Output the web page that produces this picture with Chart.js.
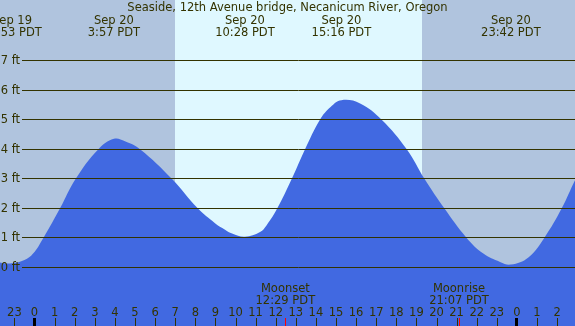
<!DOCTYPE html>
<html>
<head>
<meta charset="utf-8">
<script src="https://cdn.jsdelivr.net/npm/chart.js@4.4.1/dist/chart.umd.min.js"></script>
<style>
  html, body { margin: 0; padding: 0; background: #b0c4de; }
  #wrap { width: 575px; height: 326px; }
</style>
</head>
<body>
<div id="wrap"><canvas id="tideChart" width="575" height="326"></canvas></div>
<script>
// hours are counted from midnight Sep 20 (negative = Sep 19, >24 = Sep 21)
const tideHours = [-2.5, -1.72, -1.12, -0.5, -0.07, 0.44, 1.27, 2.05, 3.18, 3.95, 4.5, 5.25, 6.83, 8.12, 8.98, 9.48, 9.83, 10.47, 11.22, 11.55, 12.08, 12.8, 13.46, 14.2, 14.73, 15.27, 16.2, 17.27, 18.52, 19.4, 20.39, 21.5, 22.33, 23.16, 23.7, 24.57, 25.36, 26.23, 26.89, 27.5];
const tideFeet  = [0.35, 0.17, 0.14, 0.25, 0.47, 1.0, 2.0, 3.0, 4.0, 4.35, 4.27, 4.0, 3.0, 2.0, 1.5, 1.28, 1.15, 1.04, 1.2, 1.43, 2.0, 3.0, 4.0, 5.0, 5.43, 5.66, 5.55, 5.0, 4.0, 3.0, 2.0, 1.0, 0.47, 0.19, 0.1, 0.34, 1.0, 2.0, 2.95, 3.75];

const extremeHours = [-1.12, 3.95, 10.47, 15.27, 23.7];
const extremeDates = ["Sep 19", "Sep 20", "Sep 20", "Sep 20", "Sep 20"];
const extremeTimes = ["22:53 PDT", "3:57 PDT", "10:28 PDT", "15:16 PDT", "23:42 PDT"];

const feetLines = [0, 1, 2, 3, 4, 5, 6, 7];
const hourTicks = [-1, 0, 1, 2, 3, 4, 5, 6, 7, 8, 9, 10, 11, 12, 13, 14, 15, 16, 17, 18, 19, 20, 21, 22, 23, 24, 25, 26];
const hourLabels = ["23", "0", "1", "2", "3", "4", "5", "6", "7", "8", "9", "10", "11", "12", "13", "14", "15", "16", "17", "18", "19", "20", "21", "22", "23", "0", "1", "2"];

const sunrise = 6.99;
const sunset = 19.28;

const moonHours = [12.48, 21.12];
const moonNames = ["Moonset", "Moonrise"];
const moonTimes = ["12:29 PDT", "21:07 PDT"];

const title = "Seaside, 12th Avenue bridge, Necanicum River, Oregon";

const textColor = "#333300";
const font = "11.5px 'DejaVu Sans'";

const tidePlugin = {
  id: "tide",
  beforeDatasetsDraw(chart) {
    const ctx = chart.ctx;
    const a = chart.chartArea;
    const x = chart.scales.x;
    ctx.save();
    ctx.fillStyle = "#b0c4de";
    ctx.fillRect(a.left, a.top, a.right - a.left, a.bottom - a.top);
    const x1 = Math.round(x.getPixelForValue(sunrise));
    const x2 = Math.round(x.getPixelForValue(sunset));
    ctx.fillStyle = "#dff8ff";
    ctx.fillRect(x1, a.top, x2 - x1, a.bottom - a.top);
    ctx.restore();
  },
  afterDatasetsDraw(chart) {
    const ctx = chart.ctx;
    const a = chart.chartArea;
    const x = chart.scales.x;
    const y = chart.scales.y;
    ctx.save();
    ctx.font = font;
    ctx.fillStyle = textColor;

    // feet lines
    feetLines.forEach(f => {
      const py = Math.round(y.getPixelForValue(f) - 0.5) + 0.5;
      ctx.strokeStyle = "#333300";
      ctx.lineWidth = 1;
      ctx.beginPath();
      ctx.moveTo(22, py);
      ctx.lineTo(a.right, py);
      ctx.stroke();
      ctx.textAlign = "right";
      ctx.textBaseline = "middle";
      ctx.fillText(f + " ft", 20, py + 0.5);
    });

    // title
    ctx.textAlign = "center";
    ctx.textBaseline = "alphabetic";
    ctx.fillText(title, (a.left + a.right) / 2, 11);

    // high / low labels
    extremeHours.forEach((h, i) => {
      const px = x.getPixelForValue(h);
      ctx.fillText(extremeDates[i], px, 24);
      ctx.fillText(extremeTimes[i], px, 36);
    });

    // moon
    moonHours.forEach((h, i) => {
      const px = x.getPixelForValue(h);
      ctx.fillText(moonNames[i], px, 292);
      ctx.fillText(moonTimes[i], px, 304);
      ctx.fillStyle = "#ff0000";
      ctx.fillRect(Math.round(px), 318, 1, 8);
      ctx.fillStyle = textColor;
    });

    // hour ticks and labels
    hourTicks.forEach((h, i) => {
      const px = x.getPixelForValue(h);
      ctx.fillText(hourLabels[i], px, 316);
      if (hourLabels[i] === "0") {
        ctx.fillStyle = "#000000";
        ctx.fillRect(Math.round(px) - 2, 318, 3, 8);
        ctx.fillStyle = textColor;
      } else {
        ctx.fillRect(Math.round(px), 318, 1, 8);
      }
    });
    ctx.restore();
  }
};

const points = tideHours.map((h, i) => ({ x: h, y: tideFeet[i] }));

new Chart(document.getElementById("tideChart").getContext("2d"), {
  type: "line",
  data: {
    datasets: [{
      data: points,
      borderWidth: 0,
      borderColor: "#4169e1",
      backgroundColor: "#4169e1",
      pointRadius: 0,
      fill: "start",
      tension: 0.4
    }]
  },
  options: {
    responsive: false,
    animation: false,
    layout: { padding: 0 },
    plugins: { legend: { display: false }, tooltip: { enabled: false } },
    scales: {
      x: { type: "linear", min: -34.5 / 20.1, max: 540.5 / 20.1, display: false },
      y: { min: -58.5 / 29.571, max: 267.5 / 29.571, display: false }
    }
  },
  plugins: [tidePlugin]
});
</script>
</body>
</html>
